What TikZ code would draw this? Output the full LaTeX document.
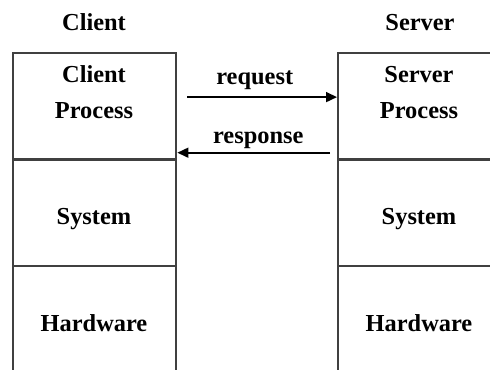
\documentclass[tikz,border=0pt]{standalone}
\usepackage{fontspec}
\setmainfont{Liberation Serif}
\usetikzlibrary{arrows.meta}
\begin{document}
\begin{tikzpicture}[x=0.5pt, y=-0.5pt,
  frame/.style={draw=black!75, line width=1.2pt},
  cell/.style={frame, rectangle, inner sep=0pt, minimum width=81.5pt,
    minimum height=53.5pt, anchor=north west},
  lbl/.style={font=\fontsize{12.2}{14}\selectfont\bfseries, anchor=base, inner sep=0pt},
  msg/.style={-{Triangle[length=5.5pt,width=5pt]}, line width=0.8pt, draw=black}]
  \useasboundingbox (0,0) rectangle (490,369);
  \clip (0,0) rectangle (490,369);

  % client stack
  \node[cell] (cp) at (12,52) {};
  \node[cell] (cs) at (12,158) {};
  \node[cell] (ch) at (12,265) {};
  % server stack
  \node[cell] (sp) at (337,52) {};
  \node[cell] (ss) at (337,158) {};
  \node[cell] (sh) at (337,265) {};

  % headings
  \node[lbl] (chead) at (94,31) {Client};
  \node[lbl] (shead) at (420,31) {Server};

  % layer labels
  \node[lbl] (cp1) at (94,83) {Client};
  \node[lbl] (cp2) at (94,118) {Process};
  \node[lbl] (sp1) at (419,83) {Server};
  \node[lbl] (sp2) at (419,118) {Process};
  \node[lbl] (cs1) at (94,224) {System};
  \node[lbl] (ss1) at (419,224) {System};
  \node[lbl] (ch1) at (94,331) {Hardware};
  \node[lbl] (sh1) at (419,331) {Hardware};

  % messages between the processes
  \draw[msg] ([shift={(5pt,4.8pt)}]cp.east) -- ([yshift=4.8pt]sp.west)
    node[lbl, pos=0.45, above=3.5pt] (req) {request};
  \draw[msg] ([shift={(-3.5pt,-23pt)}]sp.west) -- ([yshift=-23pt]cp.east)
    node[lbl, pos=0.47, above=1.5pt] (resp) {response};
\end{tikzpicture}
\end{document}
